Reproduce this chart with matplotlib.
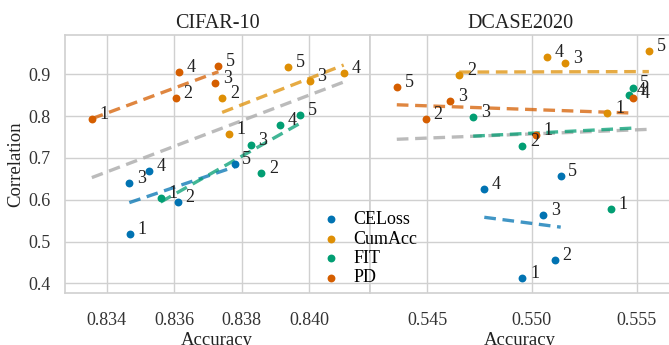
import numpy as np
import matplotlib
matplotlib.use("Agg")
import matplotlib.pyplot as plt

plt.rcParams['font.family'] = ['Liberation Serif', 'DejaVu Serif']
plt.rcParams['axes.unicode_minus'] = False

methods = ["CELoss", "CumAcc", "FIT", "PD"]
colors = {"CELoss": "#0173b2", "CumAcc": "#de8f05", "FIT": "#029e73", "PD": "#d55e00"}
point_labels = ["1", "2", "3", "4", "5"]

# CIFAR-10
cifar_acc = {
    "CELoss": [0.83468, 0.83611, 0.83467, 0.83526, 0.83779],
    "CumAcc": [0.83761, 0.83742, 0.84001, 0.84102, 0.83938],
    "FIT":    [0.83560, 0.83858, 0.83827, 0.83914, 0.83972],
    "PD":     [0.83356, 0.83604, 0.83721, 0.83615, 0.83731],
}
cifar_corr = {
    "CELoss": [0.518, 0.595, 0.640, 0.669, 0.685],
    "CumAcc": [0.758, 0.843, 0.884, 0.904, 0.918],
    "FIT":    [0.605, 0.663, 0.731, 0.778, 0.803],
    "PD":     [0.792, 0.844, 0.880, 0.906, 0.921],
}
# DCASE2020
dcase_acc = {
    "CELoss": [0.54955, 0.55111, 0.55055, 0.54773, 0.55138],
    "CumAcc": [0.55361, 0.54653, 0.55160, 0.55074, 0.55559],
    "FIT":    [0.55376, 0.54955, 0.54720, 0.55465, 0.55481],
    "PD":     [0.55020, 0.54495, 0.54610, 0.55484, 0.54355],
}
dcase_corr = {
    "CELoss": [0.412, 0.457, 0.563, 0.626, 0.657],
    "CumAcc": [0.807, 0.898, 0.928, 0.942, 0.955],
    "FIT":    [0.577, 0.729, 0.797, 0.850, 0.868],
    "PD":     [0.756, 0.792, 0.837, 0.843, 0.869],
}

panels = [
    ("CIFAR-10", cifar_acc, cifar_corr, [0.834, 0.836, 0.838, 0.840], (0.83275, 0.84180)),
    ("DCASE2020", dcase_acc, dcase_corr, [0.545, 0.550, 0.555], (0.54227, 0.55660)),
]

W, H = 669, 345
fig = plt.figure(figsize=(W / 100, H / 100), dpi=100)
ax_boxes = [
    [64.5 / W, (H - 293) / H, (370 - 64.5) / W, (293 - 35) / H],
    [370 / W, (H - 293) / H, (670 - 370) / W, (293 - 35) / H],
]

grid_c = "#d0d0d0"
txt_c = "#222222"
handles = []
for i, (title, accd, corrd, xt, xl) in enumerate(panels):
    ax = fig.add_axes(ax_boxes[i])
    ax.set_facecolor("white")
    ax.grid(True, color=grid_c, linewidth=1.0)
    ax.set_axisbelow(True)
    for s in ax.spines.values():
        s.set_color(grid_c)
        s.set_linewidth(1.2)
    ax.tick_params(length=0, labelsize=13, colors="#333333")
    ax.tick_params(axis="x", pad=13.5)
    all_x, all_y = [], []
    for m in methods:
        x = np.array(accd[m]); y = np.array(corrd[m])
        all_x += list(x); all_y += list(y)
        h = ax.scatter(x, y, s=32, color=colors[m], zorder=4, linewidths=0, label=m)
        if i == 0:
            handles.append(h)
        b, a = np.polyfit(x, y, 1)
        xs = np.array([x.min(), x.max()])
        ax.plot(xs, a + b * xs, color=colors[m], ls=(0, (3.5, 2)), lw=2.4, alpha=0.75, zorder=3)
        for xx, yy, lab in zip(x, y, point_labels):
            ax.annotate(lab, (xx, yy), xytext=(5.5, 0), textcoords="offset points",
                        ha="left", va="baseline", fontsize=13, color=txt_c, zorder=5)
    ax_x = np.array(all_x); ax_y = np.array(all_y)
    b, a = np.polyfit(ax_x, ax_y, 1)
    xs = np.array([ax_x.min(), ax_x.max()])
    ax.plot(xs, a + b * xs, color="#b0b0b0", ls=(0, (3.5, 2)), lw=2.4, alpha=0.85, zorder=2)
    ax.set_xlim(*xl)
    ax.set_ylim(0.377, 0.994)
    ax.set_xticks(xt)
    ax.set_xticklabels([f"{v:.3f}" for v in xt])
    ax.set_yticks([0.4, 0.5, 0.6, 0.7, 0.8, 0.9])
    ax.set_title(title, fontsize=14.5, color=txt_c, pad=5)
    ax.set_xlabel("Accuracy", fontsize=13.5, color=txt_c, labelpad=2)
    if i == 0:
        ax.set_ylabel("Correlation", fontsize=13.5, color=txt_c, labelpad=3)
        ax.set_yticklabels(["0.4", "0.5", "0.6", "0.7", "0.8", "0.9"])
        ax.tick_params(axis="y", pad=10)
    else:
        ax.set_yticklabels([])

leg = fig.legend(handles=handles, labels=methods, loc="upper left",
                 bbox_to_anchor=(310 / W, 1 - 204 / H), frameon=False, fontsize=13,
                 handletextpad=0.5, labelspacing=0.13, markerscale=1.0, borderaxespad=0,
                 handlelength=1.5)
leg.set_zorder(10)

fig.savefig("out.png", dpi=100)
